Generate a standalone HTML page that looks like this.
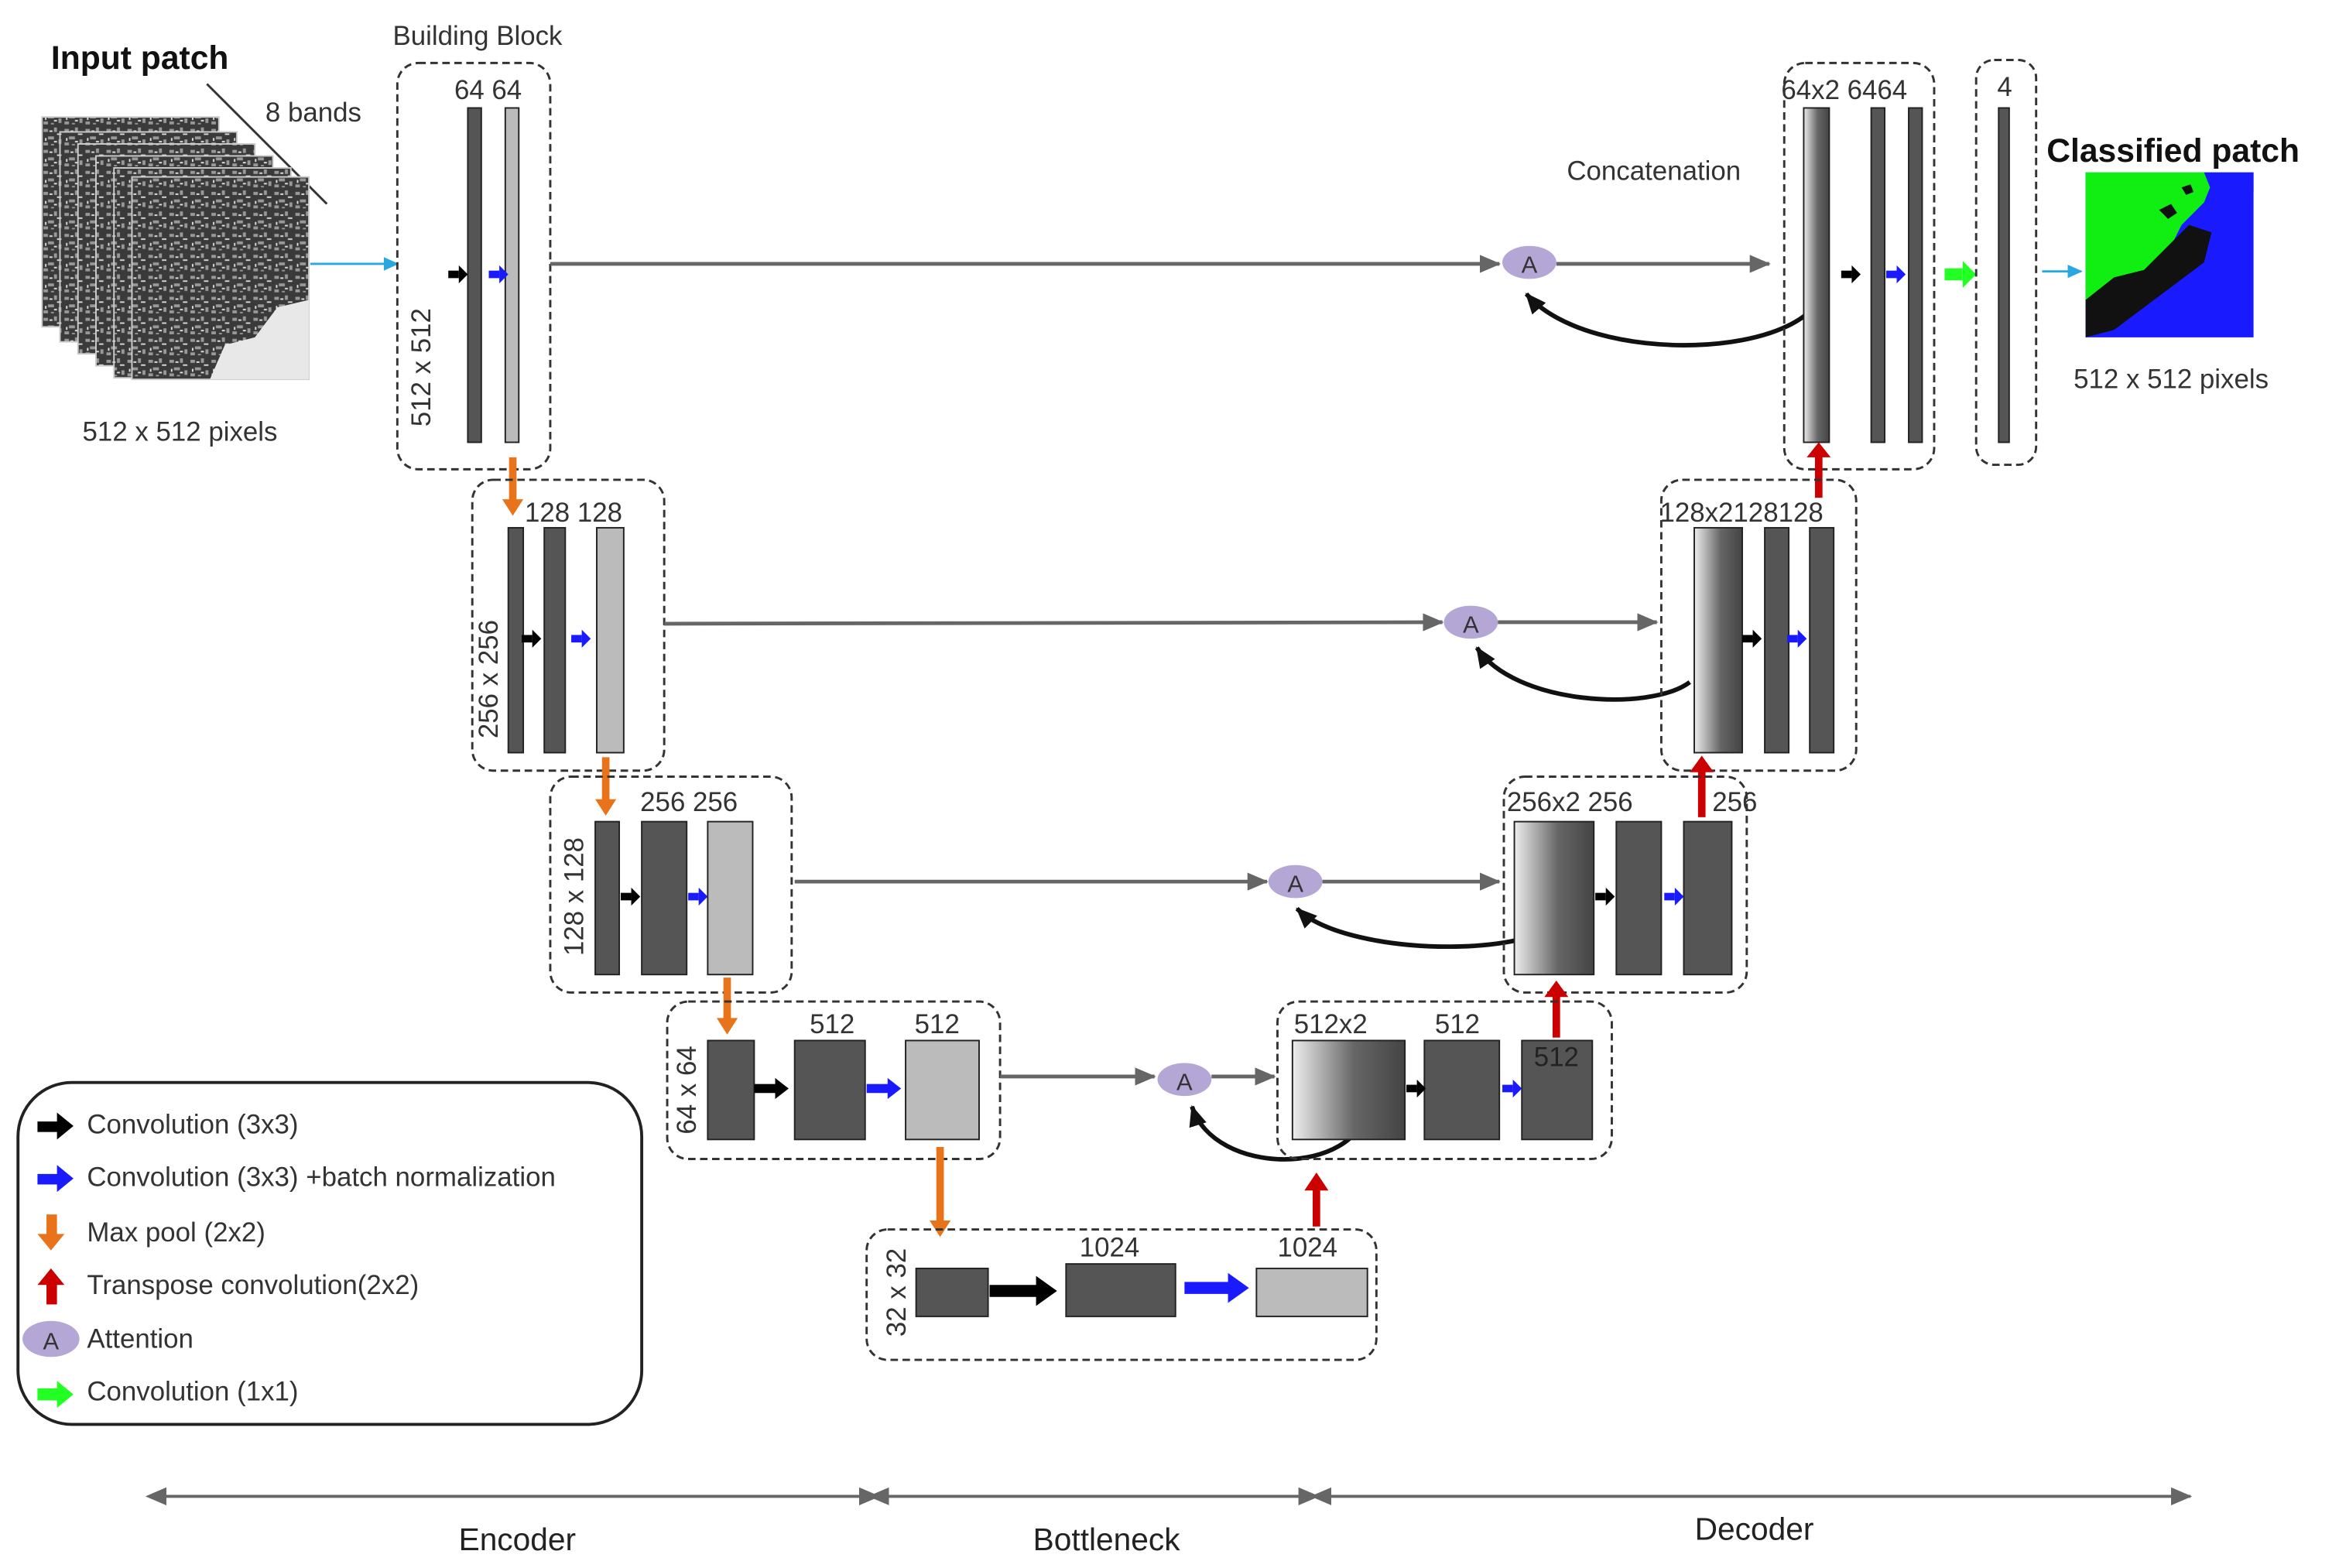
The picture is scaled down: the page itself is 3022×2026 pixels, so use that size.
<!DOCTYPE html>
<html><head><meta charset="utf-8"><style>
html,body{margin:0;padding:0;background:#fff;}
svg{display:block;}
text{font-family:"Liberation Sans",Arial,sans-serif;fill:#333;}
</style></head><body>
<svg width="3022" height="2026" viewBox="0 0 1560 1045.8" preserveAspectRatio="none" xmlns="http://www.w3.org/2000/svg">
<defs>
<linearGradient id="gr" x1="0" x2="1" y1="0" y2="0"><stop offset="0" stop-color="#eee"/><stop offset="0.55" stop-color="#666"/><stop offset="1" stop-color="#444"/></linearGradient>
<pattern id="nz" width="14" height="14" patternUnits="userSpaceOnUse">
<rect width="14" height="14" fill="#3a3a3a"/>
<path d="M1,2 h3 v2 h-3z M8,1 h2 v3 h-2z M4,7 h4 v2 h-4z M11,9 h2 v3 h-2z M1,11 h3 v2 h-3z M6,12 h2 v1 h-2z" fill="#999"/>
<path d="M5,3 h2 v1 h-2z M10,5 h3 v1 h-3z M2,8 h1 v2 h-1z M8,10 h2 v1 h-2z" fill="#ddd"/>
</pattern>
<marker id="ag" markerUnits="userSpaceOnUse" markerWidth="14" markerHeight="12" refX="13" refY="6" orient="auto"><path d="M0,0 L14,6 L0,12 z" fill="#666"/></marker>
<marker id="ak" markerUnits="userSpaceOnUse" markerWidth="14" markerHeight="12" refX="13" refY="6" orient="auto"><path d="M0,0 L14,6 L0,12 z" fill="#111"/></marker>
<marker id="ac" markerUnits="userSpaceOnUse" markerWidth="10" markerHeight="9" refX="9" refY="4.5" orient="auto"><path d="M0,0 L10,4.5 L0,9 z" fill="#29a8e0"/></marker>
<marker id="ad" markerUnits="userSpaceOnUse" markerWidth="14" markerHeight="12" refX="1" refY="6" orient="auto-start-reverse"><path d="M0,0 L14,6 L0,12 z" fill="#666"/></marker>
<g id="bk"><rect x="-6" y="-2.5" width="7" height="5" fill="#000"/><path d="M1,-6 L7,0 L1,6 z" fill="#000"/></g>
<g id="bl"><rect x="-6" y="-2.5" width="7" height="5" fill="#1a1aff"/><path d="M1,-6 L7,0 L1,6 z" fill="#1a1aff"/></g>
</defs>

<!-- Input patch -->
<text x="34" y="46" font-size="22" font-weight="bold" style="fill:#111">Input patch</text>
<text x="177" y="81" font-size="18">8 bands</text>
<line x1="138" y1="56" x2="218" y2="136" stroke="#333" stroke-width="1.5"/>
<g stroke="#ccc" stroke-width="1">
<rect x="28" y="78" width="118" height="140" fill="url(#nz)"/>
<rect x="40" y="88" width="118" height="140" fill="url(#nz)"/>
<rect x="52" y="96" width="118" height="140" fill="url(#nz)"/>
<rect x="64" y="104" width="118" height="140" fill="url(#nz)"/>
<rect x="76" y="112" width="118" height="140" fill="url(#nz)"/>
<rect x="88" y="118" width="118" height="135" fill="url(#nz)"/>
</g>
<path d="M140,253 L150,230 170,225 185,205 206,200 V253z" fill="#e8e8e8"/>
<text x="55" y="294" font-size="18">512 x 512 pixels</text>
<line x1="207" y1="176" x2="265" y2="176" stroke="#29a8e0" stroke-width="1.5" marker-end="url(#ac)"/>

<!-- Block 1 -->
<text x="262" y="30" font-size="18">Building Block</text>
<rect x="265" y="42" width="102" height="271" rx="14" fill="none" stroke="#333" stroke-width="1.5" stroke-dasharray="5,3"/>
<text x="303" y="66" font-size="18">64 64</text>
<rect x="312" y="72" width="9" height="223" fill="#555" stroke="#222"/>
<rect x="337" y="72" width="9" height="223" fill="#bbb" stroke="#222"/>
<use href="#bk" x="305" y="183"/><use href="#bl" x="332" y="183"/>
<text transform="translate(287,245) rotate(-90)" font-size="18" text-anchor="middle">512 x 512</text>
<line x1="367" y1="176" x2="1000" y2="176" stroke="#666" stroke-width="2.5" marker-end="url(#ag)"/>
<ellipse cx="1020" cy="175" rx="18" ry="11" fill="#b4a7d6"/><text x="1020" y="182" font-size="16" text-anchor="middle">A</text>
<line x1="1038" y1="176" x2="1180" y2="176" stroke="#666" stroke-width="2.5" marker-end="url(#ag)"/>
<path d="M1217,190 C1210,240 1060,245 1018,196" fill="none" stroke="#111" stroke-width="3" marker-end="url(#ak)"/>

<!-- Dec 1 -->
<rect x="1190" y="42" width="100" height="271" rx="14" fill="none" stroke="#333" stroke-width="1.5" stroke-dasharray="5,3"/>
<text x="1188" y="66" font-size="18">64x2 6464</text>
<text x="1045" y="120" font-size="18">Concatenation</text>
<rect x="1203" y="72" width="17" height="223" fill="url(#gr)" stroke="#222"/>
<rect x="1248" y="72" width="9" height="223" fill="#555" stroke="#222"/>
<rect x="1273" y="72" width="9" height="223" fill="#555" stroke="#222"/>
<use href="#bk" x="1234" y="183"/><use href="#bl" x="1264" y="183"/>
<g transform="translate(1307,183)"><rect x="-10" y="-4" width="12" height="8" fill="#2f2"/><path d="M2,-9 L11,0 L2,9 z" fill="#2f2"/></g>
<rect x="1318" y="40" width="40" height="270" rx="12" fill="none" stroke="#333" stroke-width="1.5" stroke-dasharray="5,3"/>
<text x="1332" y="64" font-size="18">4</text>
<rect x="1333" y="72" width="7" height="223" fill="#555" stroke="#222"/>
<line x1="1362" y1="181" x2="1388" y2="181" stroke="#29a8e0" stroke-width="1.5" marker-end="url(#ac)"/>
<text x="1365" y="108" font-size="22" font-weight="bold" style="fill:#111">Classified patch</text>
<rect x="1391" y="115" width="112" height="110" fill="#1a1aff"/>
<path d="M1391,115 H1478 L1470,135 1455,150 1445,170 1425,185 1400,195 1391,200 z" fill="#11ee11"/>
<path d="M1470,115 H1503 V128 L1490,140 1478,135z" fill="#1a1aff"/>
<path d="M1391,200 L1410,185 1430,180 1445,165 1460,150 1475,155 1470,175 1450,190 1430,205 1410,220 1391,225z" fill="#111"/>
<path d="M1440,140 l8,-4 4,6 -6,4z M1455,125 l6,-2 2,5 -5,2z" fill="#111"/>
<text x="1383" y="259" font-size="18">512 x 512 pixels</text>
<line x1="1213" y1="332" x2="1213" y2="302" stroke="#c00" stroke-width="5"/><path d="M1205,305 L1213,295 L1221,305z" fill="#c00"/>

<!-- Block 2 -->
<line x1="342" y1="305" x2="342" y2="334" stroke="#e8731a" stroke-width="5"/><path d="M335,333 L342,344 L349,333z" fill="#e8731a"/>
<rect x="315" y="320" width="128" height="194" rx="14" fill="none" stroke="#333" stroke-width="1.5" stroke-dasharray="5,3"/>
<text x="350" y="348" font-size="18">128 128</text>
<rect x="339" y="352" width="10" height="150" fill="#555" stroke="#222"/>
<rect x="363" y="352" width="14" height="150" fill="#555" stroke="#222"/>
<rect x="398" y="352" width="18" height="150" fill="#bbb" stroke="#222"/>
<use href="#bk" x="354" y="426"/><use href="#bl" x="387" y="426"/>
<text transform="translate(332,453) rotate(-90)" font-size="18" text-anchor="middle">256 x 256</text>
<line x1="443" y1="416" x2="962" y2="415" stroke="#666" stroke-width="2.5" marker-end="url(#ag)"/>
<ellipse cx="981" cy="415" rx="18" ry="11" fill="#b4a7d6"/><text x="981" y="422" font-size="16" text-anchor="middle">A</text>
<line x1="999" y1="415" x2="1105" y2="415" stroke="#666" stroke-width="2.5" marker-end="url(#ag)"/>
<path d="M1127,455 C1100,475 1010,470 985,432" fill="none" stroke="#111" stroke-width="3" marker-end="url(#ak)"/>
<rect x="1108" y="320" width="130" height="194" rx="14" fill="none" stroke="#333" stroke-width="1.5" stroke-dasharray="5,3"/>
<text x="1107" y="348" font-size="18">128x2128128</text>
<rect x="1130" y="352" width="32" height="150" fill="url(#gr)" stroke="#222"/>
<rect x="1177" y="352" width="16" height="150" fill="#555" stroke="#222"/>
<rect x="1207" y="352" width="16" height="150" fill="#555" stroke="#222"/>
<use href="#bk" x="1168" y="426"/><use href="#bl" x="1198" y="426"/>
<line x1="1135" y1="545" x2="1135" y2="512" stroke="#c00" stroke-width="5"/><path d="M1127,515 L1135,504 L1143,515z" fill="#c00"/>

<!-- Block 3 -->
<line x1="404" y1="505" x2="404" y2="534" stroke="#e8731a" stroke-width="5"/><path d="M397,533 L404,544 L411,533z" fill="#e8731a"/>
<rect x="367" y="518" width="161" height="144" rx="14" fill="none" stroke="#333" stroke-width="1.5" stroke-dasharray="5,3"/>
<text x="427" y="541" font-size="18">256 256</text>
<rect x="397" y="548" width="16" height="102" fill="#555" stroke="#222"/>
<rect x="428" y="548" width="30" height="102" fill="#555" stroke="#222"/>
<rect x="472" y="548" width="30" height="102" fill="#bbb" stroke="#222"/>
<use href="#bk" x="420" y="598"/><use href="#bl" x="465" y="598"/>
<text transform="translate(389,598) rotate(-90)" font-size="18" text-anchor="middle">128 x 128</text>
<line x1="530" y1="588" x2="845" y2="588" stroke="#666" stroke-width="2.5" marker-end="url(#ag)"/>
<ellipse cx="864" cy="588" rx="18" ry="11" fill="#b4a7d6"/><text x="864" y="595" font-size="16" text-anchor="middle">A</text>
<line x1="882" y1="588" x2="1000" y2="588" stroke="#666" stroke-width="2.5" marker-end="url(#ag)"/>
<path d="M1048,605 C1040,640 900,640 865,606" fill="none" stroke="#111" stroke-width="3" marker-end="url(#ak)"/>
<rect x="1003" y="518" width="162" height="144" rx="14" fill="none" stroke="#333" stroke-width="1.5" stroke-dasharray="5,3"/>
<text x="1005" y="541" font-size="18">256x2  256</text>
<text x="1142" y="541" font-size="18">256</text>
<rect x="1010" y="548" width="53" height="102" fill="url(#gr)" stroke="#222"/>
<rect x="1078" y="548" width="30" height="102" fill="#555" stroke="#222"/>
<rect x="1123" y="548" width="32" height="102" fill="#555" stroke="#222"/>
<use href="#bk" x="1070" y="598"/><use href="#bl" x="1116" y="598"/>
<line x1="1038" y1="692" x2="1038" y2="662" stroke="#c00" stroke-width="5"/><path d="M1030,665 L1038,654 L1046,665z" fill="#c00"/>

<!-- Block 4 -->
<line x1="485" y1="652" x2="485" y2="680" stroke="#e8731a" stroke-width="5"/><path d="M478,679 L485,690 L492,679z" fill="#e8731a"/>
<rect x="445" y="668" width="222" height="105" rx="14" fill="none" stroke="#333" stroke-width="1.5" stroke-dasharray="5,3"/>
<text x="540" y="689" font-size="18">512</text><text x="610" y="689" font-size="18">512</text>
<rect x="472" y="694" width="31" height="66" fill="#555" stroke="#222"/>
<rect x="530" y="694" width="47" height="66" fill="#555" stroke="#222"/>
<rect x="604" y="694" width="49" height="66" fill="#bbb" stroke="#222"/>
<g transform="translate(515,726)"><rect x="-12" y="-3" width="15" height="6" fill="#000"/><path d="M2,-7 L11,0 L2,7z" fill="#000"/></g>
<g transform="translate(590,726)"><rect x="-12" y="-3" width="15" height="6" fill="#1a1aff"/><path d="M2,-7 L11,0 L2,7z" fill="#1a1aff"/></g>
<text transform="translate(464,727) rotate(-90)" font-size="18" text-anchor="middle">64 x 64</text>
<line x1="667" y1="718" x2="770" y2="718" stroke="#666" stroke-width="2.5" marker-end="url(#ag)"/>
<ellipse cx="790" cy="720" rx="18" ry="11" fill="#b4a7d6"/><text x="790" y="727" font-size="16" text-anchor="middle">A</text>
<line x1="808" y1="718" x2="850" y2="718" stroke="#666" stroke-width="2.5" marker-end="url(#ag)"/>
<path d="M912,738 C905,785 810,785 795,738" fill="none" stroke="#111" stroke-width="3" marker-end="url(#ak)"/>
<rect x="852" y="668" width="223" height="105" rx="14" fill="none" stroke="#333" stroke-width="1.5" stroke-dasharray="5,3"/>
<text x="863" y="689" font-size="18">512x2</text><text x="957" y="689" font-size="18">512</text>
<rect x="862" y="694" width="75" height="66" fill="url(#gr)" stroke="#222"/>
<rect x="950" y="694" width="50" height="66" fill="#555" stroke="#222"/>
<rect x="1015" y="694" width="47" height="66" fill="#555" stroke="#222"/>
<text x="1023" y="711" font-size="18" style="fill:#222">512</text>
<use href="#bk" x="944" y="726"/><use href="#bl" x="1008" y="726"/>
<line x1="878" y1="818" x2="878" y2="792" stroke="#c00" stroke-width="5"/><path d="M870,794 L878,782 L886,794z" fill="#c00"/>

<!-- Block 5 -->
<line x1="627" y1="765" x2="627" y2="815" stroke="#e8731a" stroke-width="5"/><path d="M620,814 L627,825 L634,814z" fill="#e8731a"/>
<rect x="578" y="820" width="340" height="87" rx="14" fill="none" stroke="#333" stroke-width="1.5" stroke-dasharray="5,3"/>
<text x="720" y="838" font-size="18">1024</text><text x="852" y="838" font-size="18">1024</text>
<rect x="611" y="846" width="48" height="32" fill="#555" stroke="#222"/>
<rect x="711" y="843" width="73" height="35" fill="#555" stroke="#222"/>
<rect x="838" y="846" width="74" height="32" fill="#bbb" stroke="#222"/>
<g transform="translate(690,861)"><rect x="-30" y="-4" width="32" height="8" fill="#000"/><path d="M1,-10 L15,0 L1,10z" fill="#000"/></g>
<g transform="translate(818,859)"><rect x="-28" y="-4" width="30" height="8" fill="#1a1aff"/><path d="M1,-10 L15,0 L1,10z" fill="#1a1aff"/></g>
<text transform="translate(604,862) rotate(-90)" font-size="18" text-anchor="middle">32 x 32</text>

<!-- Legend -->
<rect x="12" y="722" width="416" height="228" rx="36" fill="none" stroke="#222" stroke-width="2"/>
<g transform="translate(37,751)"><rect x="-12" y="-3" width="14" height="7" fill="#000"/><path d="M1,-9 L12,0 L1,9z" fill="#000"/></g>
<text x="58" y="756" font-size="18">Convolution (3x3)</text>
<g transform="translate(37,786)"><rect x="-12" y="-3" width="14" height="7" fill="#1a1aff"/><path d="M1,-9 L12,0 L1,9z" fill="#1a1aff"/></g>
<text x="58" y="791" font-size="18">Convolution (3x3) +batch normalization</text>
<g transform="translate(34,822)"><rect x="-3" y="-12" width="7" height="14" fill="#e8731a"/><path d="M-9,1 L0,12 L9,1z" fill="#e8731a"/></g>
<text x="58" y="828" font-size="18">Max pool (2x2)</text>
<g transform="translate(34,858)"><rect x="-3" y="-2" width="7" height="14" fill="#c00"/><path d="M-9,-1 L0,-12 L9,-1z" fill="#c00"/></g>
<text x="58" y="863" font-size="18">Transpose convolution(2x2)</text>
<ellipse cx="34" cy="893" rx="19" ry="12" fill="#b4a7d6"/><text x="34" y="900" font-size="16" text-anchor="middle">A</text>
<text x="58" y="899" font-size="18">Attention</text>
<g transform="translate(37,930)"><rect x="-12" y="-4" width="14" height="8" fill="#2f2"/><path d="M1,-9 L12,0 L1,9z" fill="#2f2"/></g>
<text x="58" y="934" font-size="18">Convolution (1x1)</text>

<!-- Bottom -->
<line x1="110" y1="998" x2="586" y2="998" stroke="#666" stroke-width="2" marker-start="url(#ad)" marker-end="url(#ag)"/>
<line x1="592" y1="998" x2="879" y2="998" stroke="#666" stroke-width="2" marker-start="url(#ad)" marker-end="url(#ag)"/>
<line x1="887" y1="998" x2="1461" y2="998" stroke="#666" stroke-width="2" marker-start="url(#ad)" marker-end="url(#ag)"/>
<text x="345" y="1034" font-size="21" text-anchor="middle" style="fill:#222">Encoder</text>
<text x="738" y="1034" font-size="21" text-anchor="middle" style="fill:#222">Bottleneck</text>
<text x="1170" y="1027" font-size="21" text-anchor="middle" style="fill:#222">Decoder</text>
</svg>
</body></html>
